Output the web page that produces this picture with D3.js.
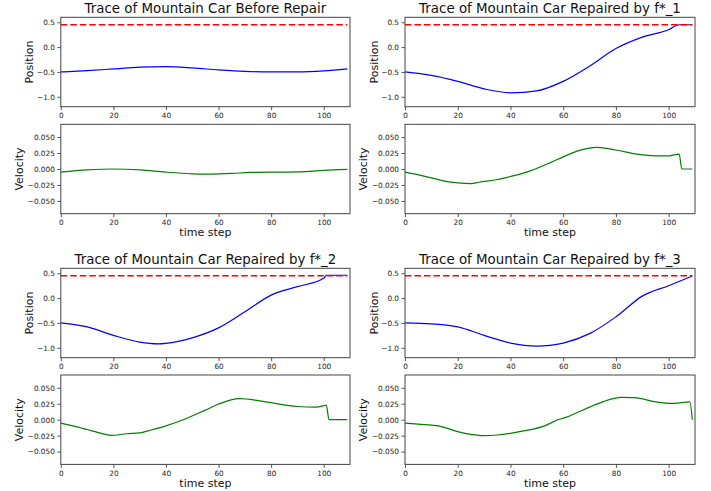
<!DOCTYPE html>
<html>
<head>
<meta charset="utf-8">
<script src="https://cdn.jsdelivr.net/npm/d3@7"></script>
<style>
  html, body { margin: 0; padding: 0; background: #fff; }
  svg { display: block; font-family: "DejaVu Sans", sans-serif; }
</style>
</head>
<body>
<svg id="chart" width="711" height="491"></svg>
<script>
// ---------- data ----------
const titles = [
  "Trace of Mountain Car Before Repair",
  "Trace of Mountain Car Repaired by f*_1",
  "Trace of Mountain Car Repaired by f*_2",
  "Trace of Mountain Car Repaired by f*_3"
];
const xTicks = [0, 20, 40, 60, 80, 100];
const posTicks = [0.5, 0.0, -0.5, -1.0];
const velTicks = [0.05, 0.025, 0.0, -0.025, -0.05];
const goalPosition = 0.45;
const goalSpan = [0, 109];

// [time step, value]
const posBefore = [[0,-0.50],[10,-0.475],[20,-0.44],[30,-0.405],[40,-0.395],[50,-0.42],[60,-0.46],[70,-0.49],[80,-0.50],[90,-0.50],[100,-0.48],[109,-0.44]];
const velBefore = [[0,-0.005],[10,-0.0015],[20,0.0],[30,-0.0015],[40,-0.005],[50,-0.0075],[57,-0.008],[65,-0.007],[72,-0.0053],[80,-0.005],[93,-0.004],[100,-0.002],[109,-0.0005]];

const posF1 = [[0,-0.50],[10,-0.57],[20,-0.69],[30,-0.84],[40,-0.92],[50,-0.88],[60,-0.69],[70,-0.385],[80,-0.03],[90,0.20],[100,0.35],[104,0.45],[109,0.45]];
const velF1 = [[0,-0.005],[6,-0.010],[10,-0.0138],[15,-0.019],[20,-0.0218],[25,-0.0229],[28,-0.0207],[35,-0.0165],[40,-0.0117],[47,-0.0037],[55,0.0096],[60,0.019],[65,0.0277],[73,0.034],[80,0.0298],[88,0.0234],[95,0.0207],[100,0.0207],[104,0.0234],[105,0.0],[109,0.0]];

const posF2 = [[0,-0.50],[10,-0.58],[20,-0.75],[30,-0.885],[37,-0.92],[40,-0.91],[50,-0.80],[60,-0.60],[70,-0.277],[80,0.06],[90,0.23],[100,0.40],[101,0.46],[109,0.46]];
const velF2 = [[0,-0.0053],[5,-0.010],[10,-0.0154],[15,-0.021],[19,-0.0245],[25,-0.022],[30,-0.0207],[35,-0.0154],[40,-0.0096],[45,-0.0025],[52,0.0096],[55,0.015],[60,0.0245],[68,0.033],[75,0.030],[80,0.0266],[90,0.0207],[97,0.0197],[100,0.0218],[101,0.0229],[102,0.0],[109,0.0]];

const posF3 = [[0,-0.50],[10,-0.52],[20,-0.58],[30,-0.75],[40,-0.905],[50,-0.966],[55,-0.95],[60,-0.905],[70,-0.716],[80,-0.378],[90,0.04],[100,0.25],[109,0.446]];
const velF3 = [[0,-0.0053],[5,-0.007],[13,-0.010],[20,-0.0186],[25,-0.0229],[30,-0.025],[35,-0.024],[40,-0.0213],[45,-0.0176],[53,-0.0096],[58,0.0],[61,0.0037],[65,0.0106],[70,0.0197],[75,0.028],[82,0.035],[87,0.0346],[95,0.028],[102,0.0255],[108,0.028],[109,0.0]];

const positionSeries = [posBefore, posF1, posF2, posF3];
const velocitySeries = [velBefore, velF1, velF2, velF3];

// ---------- layout ----------
const svg = d3.select("#chart");
const cols = [{x0: 60.8, x1: 350}, {x0: 405, x1: 695}];
const rowsTop = [{pos: 17.3, vel: 124.3}, {pos: 268.3, vel: 375}];
const axH = 89.4;
const axisColor = "#444";
const tickFont = 7.3;

function drawAxes(g, x, y, yTicks, yFmt) {
  const xa = g.append("g").attr("transform", `translate(0,${axH})`)
    .call(d3.axisBottom(x).tickValues(xTicks).tickSize(3.5).tickPadding(2.8).tickFormat(d3.format("d")));
  const ya = g.append("g")
    .call(d3.axisLeft(y).tickValues(yTicks).tickSize(3.5).tickPadding(2.5).tickFormat(yFmt));
  [xa, ya].forEach(a => {
    a.select(".domain").remove();
    a.selectAll("line").attr("stroke", axisColor).attr("stroke-width", 0.9);
    a.selectAll("text").attr("fill", "#222").style("font-size", tickFont + "px")
      .style("font-family", "DejaVu Sans, sans-serif");
  });
  const [r0, r1] = x.range();
  g.append("rect").attr("x", r0).attr("y", 0).attr("width", r1 - r0).attr("height", axH)
    .attr("fill", "none").attr("stroke", axisColor).attr("stroke-width", 1);
}

for (let i = 0; i < 4; i++) {
  const c = cols[i % 2];
  const r = rowsTop[Math.floor(i / 2)];
  const w = c.x1 - c.x0;
  const x = d3.scaleLinear().domain([0, 110]).range([0, w]);
  const yPos = d3.scaleLinear().domain([-1.2, 0.6]).range([axH, 0]);
  const yVel = d3.scaleLinear().domain([-0.07, 0.07]).range([axH, 0]);

  // Position axes
  const gp = svg.append("g").attr("transform", `translate(${c.x0},${r.pos})`);
  const clipId = "clipP" + i;
  gp.append("clipPath").attr("id", clipId).append("rect").attr("width", w).attr("height", axH);
  const lineP = d3.line().x(d => x(d[0])).y(d => yPos(d[1])).curve(d3.curveMonotoneX);
  gp.append("path").datum(positionSeries[i]).attr("d", lineP)
    .attr("fill", "none").attr("stroke", "#0000ff").attr("stroke-width", 1.2)
    .attr("clip-path", `url(#${clipId})`);
  gp.append("line")
    .attr("x1", x(goalSpan[0])).attr("x2", x(goalSpan[1]))
    .attr("y1", yPos(goalPosition)).attr("y2", yPos(goalPosition))
    .attr("stroke", "#ff0000").attr("stroke-width", 1.6).attr("stroke-dasharray", "6.5,3");
  drawAxes(gp, x, yPos, posTicks, d3.format(".1f"));
  gp.append("text").attr("x", w / 2).attr("y", -4.3).attr("text-anchor", "middle")
    .style("font-size", "13.4px").attr("fill", "#111").text(titles[i]);
  gp.append("text").attr("transform", `translate(-27.5,${axH / 2}) rotate(-90)`)
    .attr("text-anchor", "middle").style("font-size", "11px").attr("fill", "#111").text("Position");

  // Velocity axes
  const gv = svg.append("g").attr("transform", `translate(${c.x0},${r.vel})`);
  const lineV = d3.line().x(d => x(d[0])).y(d => yVel(d[1])).curve(d3.curveMonotoneX);
  gv.append("path").datum(velocitySeries[i]).attr("d", lineV)
    .attr("fill", "none").attr("stroke", "#008000").attr("stroke-width", 1.2);
  drawAxes(gv, x, yVel, velTicks, d3.format(".3f"));
  gv.append("text").attr("transform", `translate(-38,${axH / 2}) rotate(-90)`)
    .attr("text-anchor", "middle").style("font-size", "11px").attr("fill", "#111").text("Velocity");
  gv.append("text").attr("x", w / 2).attr("y", axH + 22.8).attr("text-anchor", "middle")
    .style("font-size", "11px").attr("fill", "#111").text("time step");
}
</script>
</body>
</html>
